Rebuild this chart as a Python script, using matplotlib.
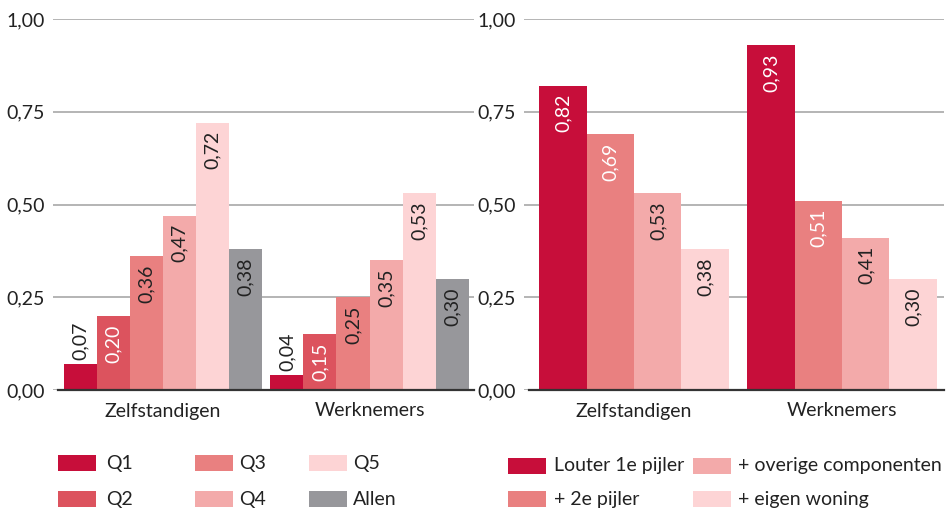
import matplotlib
matplotlib.use("Agg")
import matplotlib.pyplot as plt
from matplotlib.patches import Rectangle
import numpy as np

plt.rcParams['font.family'] = ['Lato', 'DejaVu Sans']

# ---- data ----
groups = ["Zelfstandigen", "Werknemers"]

left_series = ["Q1", "Q2", "Q3", "Q4", "Q5", "Allen"]
left_values = [
    [0.07, 0.04],   # Q1
    [0.20, 0.15],   # Q2
    [0.36, 0.25],   # Q3
    [0.47, 0.35],   # Q4
    [0.72, 0.53],   # Q5
    [0.38, 0.30],   # Allen
]

right_series = ["Louter 1e pijler", "+ 2e pijler", "+ overige componenten", "+ eigen woning"]
right_values = [
    [0.82, 0.93],
    [0.69, 0.51],
    [0.53, 0.41],
    [0.38, 0.30],
]

yticks = [0.0, 0.25, 0.5, 0.75, 1.0]
ytick_labels = ["0,00", "0,25", "0,50", "0,75", "1,00"]

# ---- styles ----
left_colors = ["#C70E3A", "#DC535E", "#E98080", "#F3AAAA", "#FDD4D5", "#97979B"]
left_textc = ["#222222", "white", "#222222", "#222222", "#222222", "#222222"]
right_colors = ["#C70E3A", "#E98080", "#F3AAAA", "#FDD4D5"]
right_textc = ["white", "white", "#222222", "#222222"]
TXT = "#222222"
FS = 14

W, H = 950, 511
fig = plt.figure(figsize=(W / 100, H / 100), dpi=100)


def fx(px):
    return px / W


def fy(py):
    return 1 - py / H


def panel(rect, series_vals, colors, textc, bw, xlim, axis_start):
    ax = fig.add_axes(rect)
    n = len(series_vals)
    x = np.arange(len(groups))
    for i, vals in enumerate(series_vals):
        pos = x + (i - (n - 1) / 2) * bw
        ax.bar(pos, vals, width=bw, color=colors[i], zorder=3, linewidth=0)
        for p, v in zip(pos, vals):
            lab = f"{v:.2f}".replace(".", ",")
            if v >= 0.12:
                ax.annotate(lab, (p, v), xytext=(0, -6), textcoords="offset points",
                            rotation=90, ha="center", va="top", fontsize=FS,
                            color=textc[i], zorder=4)
            else:
                ax.annotate(lab, (p, v), xytext=(0, 3), textcoords="offset points",
                            rotation=90, ha="center", va="bottom", fontsize=FS,
                            color=TXT, zorder=4)
    ax.set_xlim(*xlim)
    ax.set_ylim(0, 1.0)
    ax.set_yticks(yticks)
    ax.set_yticklabels(ytick_labels)
    ax.set_xticks(x)
    ax.set_xticklabels(groups)
    ax.tick_params(axis="both", length=0, labelsize=FS, colors=TXT)
    ax.tick_params(axis="y", pad=6)
    ax.tick_params(axis="x", pad=9)
    for s in ax.spines.values():
        s.set_visible(False)
    ax.grid(axis="y", color="#B4B4B4", linewidth=1.4, zorder=0)
    ax.axhline(0, xmin=axis_start, xmax=1, color="#333333", linewidth=1.6, zorder=5, clip_on=False)
    return ax


# left panel: plot area x 53..474, y 19..390
axL = panel([fx(53), fy(390), fx(421), (390 - 19) / H], left_values, left_colors, left_textc,
            0.16, (-0.533, 1.506), 5 / 421)
# right panel: x 524..944
axR = panel([fx(524), fy(390), fx(420), (390 - 19) / H], right_values, right_colors, right_textc,
            0.228, (-0.529, 1.49), 5 / 420)

# ---- legends (manual placement) ----
def legend_item(px, py, label, color, text_x):
    fig.patches.append(Rectangle((fx(px), fy(py + 16)), fx(38), 16 / H, transform=fig.transFigure,
                                 facecolor=color, edgecolor="none"))
    fig.text(fx(text_x), fy(py + 8), label, fontsize=FS, color=TXT, va="center", ha="left")


left_cols = [58, 195, 309]
left_tx = [106, 239, 353]
rows = [455, 491]
for i, (lab, col) in enumerate(zip(left_series, left_colors)):
    c, r = divmod(i, 2)
    legend_item(left_cols[c], rows[r], lab, col, left_tx[c])

right_cols = [508, 693]
right_tx = [554, 738]
rows_r = [458, 491]
for i, (lab, col) in enumerate(zip(right_series, right_colors)):
    c, r = divmod(i, 2)
    legend_item(right_cols[c], rows_r[r], lab, col, right_tx[c])

fig.savefig("out.png", dpi=100, facecolor="white")
